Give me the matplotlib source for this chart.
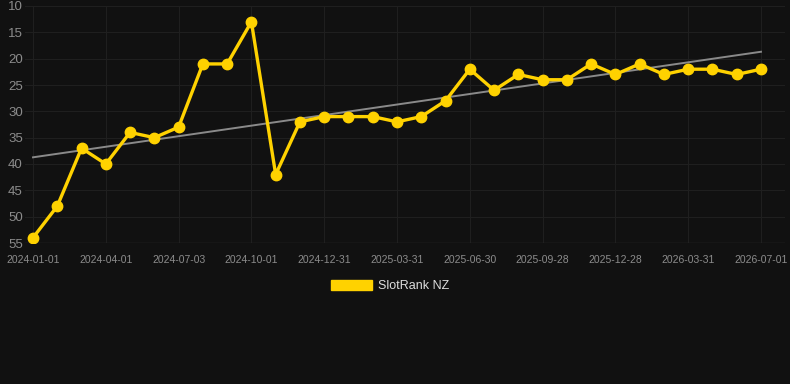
import matplotlib
matplotlib.use("Agg")
import matplotlib.pyplot as plt
import numpy as np
from matplotlib.patches import Patch

ranks = [54, 48, 37, 40, 34, 35, 33, 21, 21, 13, 42, 32, 31, 31, 31, 32,
         31, 28, 22, 26, 23, 24, 24, 21, 23, 21, 23, 22, 22, 23, 22]
tick_labels = ["2024-01-01", "2024-04-01", "2024-07-03", "2024-10-01",
               "2024-12-31", "2025-03-31", "2025-06-30", "2025-09-28",
               "2025-12-28", "2026-03-31", "2026-07-01"]
series_name = "SlotRank NZ"

plt.rcParams["font.family"] = ["Liberation Sans", "DejaVu Sans"]

bg = "#111111"
fig = plt.figure(figsize=(7.9, 3.84), dpi=100, facecolor=bg)
ax = fig.add_axes([25/790, 1-243/384, 760/790, 237/384], facecolor=bg)

x = np.arange(len(ranks))
ax.plot(x, ranks, color="#FFD200", lw=2.4, marker="o", ms=7.5,
        markerfacecolor="#FFD200", markeredgecolor="#FFD200", zorder=3)

coef = np.polyfit(x, ranks, 1)
ax.plot(x, np.polyval(coef, x), color="#8a8a8a", lw=1.4, zorder=2)

ax.set_ylim(55, 10)
ax.set_yticks(np.arange(10, 56, 5))
ax.set_xlim(-0.33, 30.99)
ax.set_xticks(x[::3])
ax.set_xticklabels(tick_labels)

ax.grid(True, color="#1f1f1f", lw=0.8)
ax.axhline(55, color="#2c2c2c", lw=1.0, zorder=1)
ax.set_axisbelow(True)
for s in ax.spines.values():
    s.set_visible(False)
ax.tick_params(axis="both", length=0)
ax.tick_params(axis="y", labelsize=9.5, labelcolor="#8c8c8c", pad=1.5)
ax.tick_params(axis="x", labelsize=7.5, labelcolor="#8c8c8c", pad=8.5)

leg = fig.legend(handles=[Patch(facecolor="#FFD200", edgecolor="#FFD200", label=series_name)],
                 loc="center", bbox_to_anchor=(390/790, 1-286/384), frameon=False,
                 handlelength=3.3, handleheight=0.9, fontsize=9, labelcolor="#dddddd",
                 handletextpad=0.5)

fig.savefig("out.png", dpi=100, facecolor=bg)
